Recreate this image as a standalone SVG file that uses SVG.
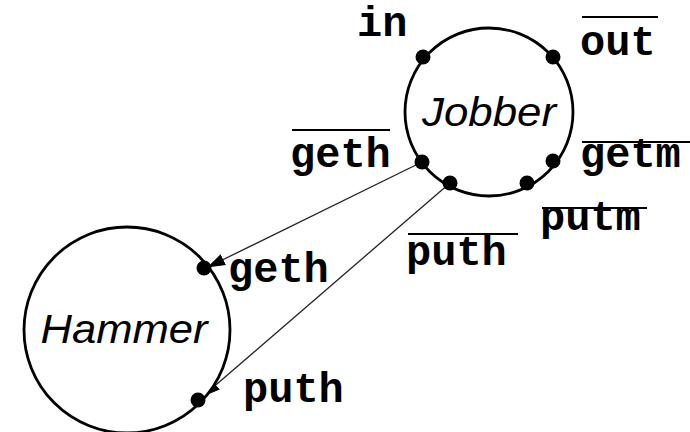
<svg xmlns="http://www.w3.org/2000/svg" width="690" height="432" viewBox="0 0 690 432">
  <defs>
    <marker id="arrow" viewBox="0 0 18 12" refX="17" refY="6" markerWidth="18" markerHeight="12" markerUnits="userSpaceOnUse" orient="auto">
      <path d="M0,0 L18,6 L0,12 Z" fill="#000"/>
    </marker>
  </defs>
  <style>
    .ring { fill: #fff; stroke: #000; stroke-width: 2.8; }
    .port { fill: #000; }
    .name { font-family: "Liberation Sans", Arial, sans-serif; font-style: italic; font-size: 40px; fill: #000; }
    .lbl { font-family: "Liberation Mono", "Courier New", monospace; font-weight: bold; font-size: 42px; fill: #000; }
    .bar { stroke: #000; stroke-width: 2; }
    .wire { stroke: #222; stroke-width: 1.3; fill: none; marker-end: url(#arrow); }
  </style>

  <g id="connectors">
    <line class="wire" x1="422" y1="162" x2="208" y2="267"/>
    <line class="wire" x1="450" y1="183" x2="203" y2="396"/>
  </g>

  <g id="jobber">
    <circle class="ring" cx="489" cy="112" r="84"/>
    <text class="name" x="489" y="126" text-anchor="middle" textLength="134" lengthAdjust="spacingAndGlyphs">Jobber</text>
    <circle class="port" cx="423" cy="57" r="7.5"/>
    <circle class="port" cx="553" cy="57" r="7.5"/>
    <circle class="port" cx="422" cy="162" r="7.5"/>
    <circle class="port" cx="553" cy="161" r="7.5"/>
    <circle class="port" cx="450" cy="183" r="7.5"/>
    <circle class="port" cx="527" cy="183" r="7.5"/>
    <text class="lbl" x="357" y="36">in</text>
    <text class="lbl" x="580" y="55">out</text>
    <line class="bar" x1="582" y1="17" x2="658" y2="17"/>
    <text class="lbl" x="290" y="167">geth</text>
    <line class="bar" x1="292" y1="130" x2="390" y2="130"/>
    <text class="lbl" x="580" y="167">getm</text>
    <line class="bar" x1="582" y1="142" x2="690" y2="142"/>
    <text class="lbl" x="540" y="230">putm</text>
    <line class="bar" x1="542" y1="208" x2="647" y2="208"/>
    <text class="lbl" x="406" y="265">puth</text>
    <line class="bar" x1="408" y1="234" x2="518" y2="234"/>
  </g>

  <g id="hammer">
    <circle class="ring" cx="127" cy="330" r="103"/>
    <text class="name" x="124" y="343" text-anchor="middle" textLength="167" lengthAdjust="spacingAndGlyphs">Hammer</text>
    <circle class="port" cx="204" cy="268" r="7.5"/>
    <circle class="port" cx="198" cy="400" r="7.5"/>
    <text class="lbl" x="228" y="282">geth</text>
    <text class="lbl" x="243" y="402">puth</text>
  </g>
</svg>
